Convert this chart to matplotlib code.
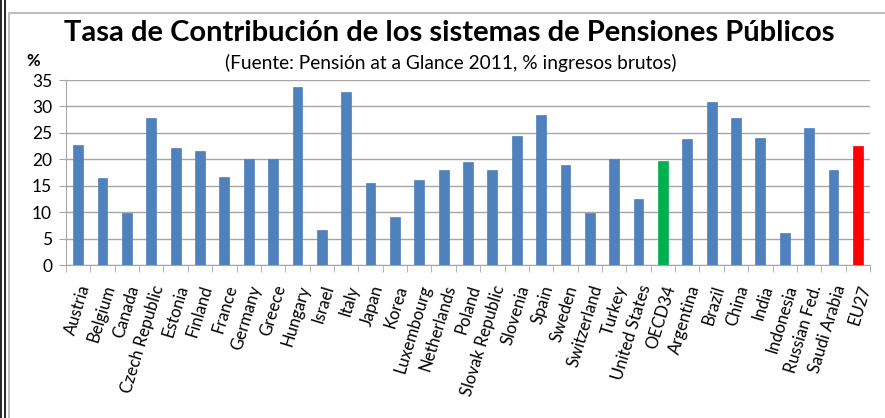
import matplotlib
matplotlib.use('Agg')
import matplotlib.pyplot as plt
from matplotlib.lines import Line2D
from matplotlib.patches import Rectangle
import numpy as np

# datos (Pension at a Glance 2011)
paises = ['Austria', 'Belgium', 'Canada', 'Czech Republic', 'Estonia', 'Finland',
          'France', 'Germany', 'Greece', 'Hungary', 'Israel', 'Italy', 'Japan',
          'Korea', 'Luxembourg', 'Netherlands', 'Poland', 'Slovak Republic',
          'Slovenia', 'Spain', 'Sweden', 'Switzerland', 'Turkey', 'United States',
          'OECD34', 'Argentina', 'Brazil', 'China', 'India', 'Indonesia',
          'Russian Fed.', 'Saudi Arabia', 'EU27']
tasas = [22.7, 16.4, 9.9, 27.9, 22.1, 21.6, 16.7, 20.0, 20.0, 33.6, 6.7, 32.7,
         15.5, 9.1, 16.0, 17.9, 19.4, 17.9, 24.4, 28.3, 18.9, 9.9, 20.0, 12.5,
         19.7, 23.8, 30.9, 27.9, 24.0, 6.0, 26.0, 17.9, 22.5]
destacados = {'OECD34': '#00B050', 'EU27': '#FF0000'}
yticks = [0, 5, 10, 15, 20, 25, 30, 35]

fuente = ['Lato', 'DejaVu Sans']
plt.rcParams['font.family'] = fuente

fig = plt.figure(figsize=(8.85, 4.18), dpi=100)
ax = fig.add_axes([66/885, 1-265/418, (870-66)/885, (265-80)/418])

colores = [destacados.get(p, '#4F81BD') for p in paises]
x = np.arange(len(paises))
ax.bar(x, tasas, width=0.4, color=colores, edgecolor=colores, linewidth=0.5, zorder=3)

ax.set_xlim(-0.5, len(paises) - 0.5)
ax.set_ylim(0, 35)
ax.set_yticks(yticks)
ax.set_yticklabels([str(v) for v in yticks], fontsize=12.5)
ax.yaxis.grid(True, color='#A6A6A6', linewidth=1, zorder=0)
ax.set_xticks(x)
ax.set_xticklabels(paises, rotation=73, ha='right', rotation_mode='anchor', fontsize=12)
ax.set_xticks(np.arange(len(paises) + 1) - 0.5, minor=True)
ax.tick_params(axis='x', which='major', length=0, pad=13)
ax.tick_params(axis='x', which='minor', length=5, color='#A6A6A6', direction='out')
ax.tick_params(axis='y', length=5, color='#A6A6A6', pad=5)
for s in ['top', 'right']:
    ax.spines[s].set_visible(False)
ax.spines['left'].set_color('#A6A6A6')
ax.spines['bottom'].set_color('#A6A6A6')

fig.text(449/885, 1-33/418, 'Tasa de Contribución de los sistemas de Pensiones Públicos',
         ha='center', va='center', fontsize=21, fontweight='bold')
fig.text(451/885, 1-63/418, '(Fuente: Pensión at a Glance 2011, % ingresos brutos)',
         ha='center', va='center', fontsize=13.8)
fig.text(33/885, 1-61/418, '%', ha='center', va='center', fontsize=12, fontweight='bold')

# marco
fig.add_artist(Line2D([1/885, 1/885], [0, 1], color='black', linewidth=1.2))
fig.add_artist(Line2D([5/885, 5/885], [0, 1], color='black', linewidth=1.2))
fig.add_artist(Rectangle((9/885, -0.05), 1, 1 - 13/418 + 0.05, fill=False,
                         edgecolor='#BFBFBF', linewidth=1.5))

fig.savefig('out.png', dpi=100)
